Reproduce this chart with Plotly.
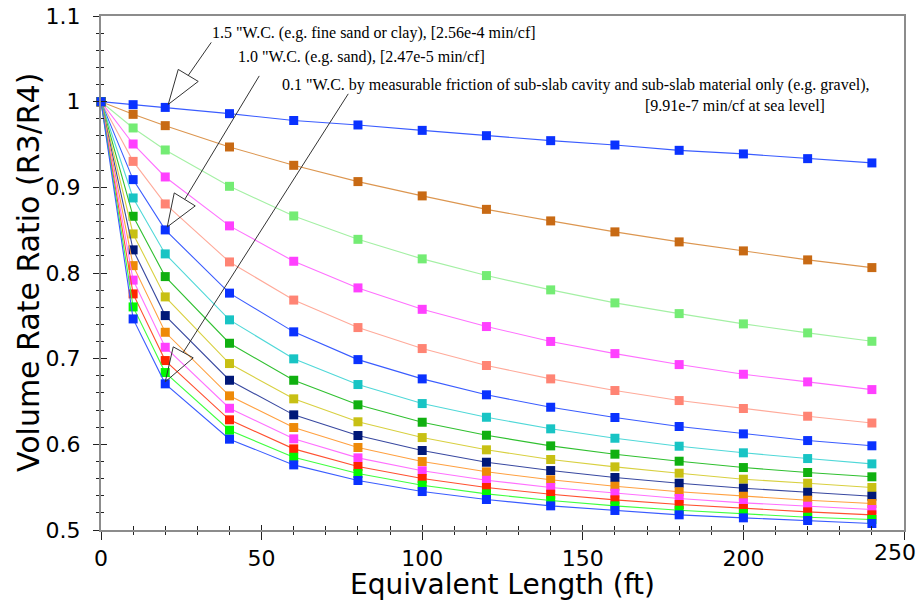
import plotly.graph_objects as go

# Equivalent length (ft)
x_ft = [0, 10, 20, 40, 60, 80, 100, 120, 140, 160, 180, 200, 220, 240]

s01 = [1.0, 0.9965, 0.9933, 0.986, 0.978, 0.9728, 0.9665, 0.9603, 0.9545, 0.9494, 0.9432, 0.939, 0.9335, 0.9285]
s02 = [1.0, 0.9852, 0.972, 0.9471, 0.9257, 0.9067, 0.89, 0.8743, 0.8608, 0.848, 0.8363, 0.8258, 0.8153, 0.8063]
s03 = [1.0, 0.9693, 0.9436, 0.9012, 0.8666, 0.8393, 0.8165, 0.797, 0.7803, 0.7651, 0.7526, 0.7406, 0.7301, 0.7203]
s04 = [1.0, 0.9506, 0.9121, 0.855, 0.8137, 0.7826, 0.7576, 0.7375, 0.7201, 0.7059, 0.6931, 0.6818, 0.6729, 0.6639]
s05 = [1.0, 0.9303, 0.8806, 0.8129, 0.7684, 0.7363, 0.7118, 0.692, 0.6764, 0.6628, 0.6511, 0.6418, 0.6328, 0.6249]
s06 = [1.0, 0.909, 0.8503, 0.7765, 0.7313, 0.6989, 0.6764, 0.6578, 0.6433, 0.6313, 0.6208, 0.6122, 0.6044, 0.5983]
s07 = [1.0, 0.8876, 0.8223, 0.7453, 0.6998, 0.6698, 0.6476, 0.6316, 0.6181, 0.6071, 0.5978, 0.5901, 0.5834, 0.5772]
s08 = [1.0, 0.8662, 0.7958, 0.718, 0.6748, 0.6461, 0.6258, 0.6106, 0.5982, 0.5885, 0.5803, 0.5729, 0.5671, 0.5621]
s09 = [1.0, 0.8456, 0.7721, 0.6943, 0.6531, 0.6263, 0.6079, 0.5936, 0.5823, 0.5737, 0.5663, 0.5593, 0.5546, 0.5496]
s10 = [1.0, 0.827, 0.7503, 0.6748, 0.6344, 0.6103, 0.5928, 0.5791, 0.5694, 0.5613, 0.5546, 0.5488, 0.5441, 0.5394]
s11 = [1.0, 0.8086, 0.7308, 0.6566, 0.6196, 0.5963, 0.5799, 0.5679, 0.5586, 0.5511, 0.5446, 0.5394, 0.5348, 0.5309]
s12 = [1.0, 0.7917, 0.7133, 0.6421, 0.6064, 0.5842, 0.5691, 0.5581, 0.5496, 0.5429, 0.5368, 0.5317, 0.5278, 0.5239]
s13 = [1.0, 0.7756, 0.6978, 0.6286, 0.5947, 0.5741, 0.5601, 0.5496, 0.5418, 0.5352, 0.5298, 0.5251, 0.5212, 0.5177]
s14 = [1.0, 0.7604, 0.6838, 0.6165, 0.5849, 0.5659, 0.5523, 0.5422, 0.5344, 0.5282, 0.5231, 0.5193, 0.5149, 0.5123]
s15 = [1.0, 0.7464, 0.6706, 0.606, 0.576, 0.5578, 0.5449, 0.5356, 0.5282, 0.5228, 0.5177, 0.5142, 0.5111, 0.5076]

series = [s01, s02, s03, s04, s05, s06, s07, s08, s09, s10, s11, s12, s13, s14, s15]

marker_colors = ["#0a32ff", "#c86a14", "#74ec74", "#ff40ff", "#ff8474", "#0a32ff", "#18c4c4",
                 "#10b010", "#c8c014", "#001878", "#ee8a08", "#ff40ff", "#ff2400", "#00f800", "#0a32ff"]
line_colors = ["#3a5cff", "#dc9650", "#a4f0a4", "#ff70ff", "#ffaa9a", "#3a5cff", "#50d8d8",
               "#30c030", "#d8d040", "#3848a0", "#ffa040", "#ff70ff", "#ff5030", "#40ff40", "#3a5cff"]

y_ticks = [0.5, 0.6, 0.7, 0.8, 0.9, 1.0, 1.1]
y_ticklabels = ["0.5", "0.6", "0.7", "0.8", "0.9", "1", "1.1"]
x_ticks = [0, 50, 100, 150, 200, 250]
x_ticklabels = ["0", "50", "100", "150", "200", "250"]

x_title = "Equivalent Length (ft)"
y_title = "Volume Rate Ratio (R3/R4)"

ann_texts = [
    '1.5 "W.C. (e.g. fine sand or clay), [2.56e-4 min/cf]',
    '1.0 "W.C. (e.g. sand), [2.47e-5 min/cf]',
    '0.1 "W.C. by measurable friction of sub-slab cavity and sub-slab material only (e.g. gravel),',
    '[9.91e-7 min/cf at sea level]',
]

fig = go.Figure()
for s, mc, lc in zip(series, marker_colors, line_colors):
    fig.add_trace(go.Scatter(
        x=x_ft, y=s, mode="lines+markers",
        line=dict(color=lc, width=1.1),
        marker=dict(symbol="square", size=9, color=mc, line=dict(width=0)),
        cliponaxis=False, showlegend=False, hoverinfo="x+y",
    ))

# helper overlay axes (for inside half of the crossing ticks)
fig.add_trace(go.Scatter(x=[None], y=[None], xaxis="x2", yaxis="y2",
                         showlegend=False, hoverinfo="skip"))

tickfont = dict(family="DejaVu Sans", size=22, color="black")
fig.update_layout(
    width=916, height=603,
    margin=dict(l=101, r=12, t=16, b=73, autoexpand=False),
    plot_bgcolor="white", paper_bgcolor="white",
    xaxis=dict(range=[0, 250], tickvals=x_ticks, ticktext=x_ticklabels[:-1] + [""],
               showgrid=False, zeroline=False, automargin=False,
               showline=True, linecolor="#8c8c8c", linewidth=2, mirror=True,
               ticks="outside", ticklen=8, tickwidth=1, tickcolor="#222",
               minor=dict(dtick=10, ticks="outside", ticklen=3, tickcolor="#222", showgrid=False),
               tickfont=tickfont, ticklabelstandoff=0),
    yaxis=dict(range=[0.5, 1.1], tickvals=y_ticks, ticktext=y_ticklabels,
               showgrid=False, zeroline=False, automargin=False,
               showline=True, linecolor="#8c8c8c", linewidth=2, mirror=True,
               ticks="outside", ticklen=6, tickwidth=1, tickcolor="#222",
               minor=dict(dtick=0.02, ticks="outside", ticklen=3, tickcolor="#222", showgrid=False),
               tickfont=tickfont, ticklabelstandoff=8, ticklabeloverflow="allow"),
    xaxis2=dict(matches="x", overlaying="x", anchor="y2", side="bottom", showgrid=False,
                zeroline=False, showline=False, showticklabels=False, tickvals=x_ticks,
                automargin=False, ticks="inside", ticklen=5, tickcolor="#222",
                minor=dict(dtick=10, ticks="inside", ticklen=4, tickcolor="#222", showgrid=False)),
    yaxis2=dict(matches="y", overlaying="y", anchor="x2", side="left", showgrid=False,
                zeroline=False, showline=False, showticklabels=False, tickvals=y_ticks,
                automargin=False, ticks="inside", ticklen=6, tickcolor="#222",
                minor=dict(dtick=0.02, ticks="inside", ticklen=3, tickcolor="#222", showgrid=False)),
)

# last x tick label, kept inside the page
fig.add_annotation(x=x_ticks[-1], y=0, xref="x", yref="paper", text=x_ticklabels[-1],
                   showarrow=False, xanchor="center", yanchor="top", xshift=-9, yshift=-8,
                   font=tickfont)

# axis titles
fig.add_annotation(x=0.5, y=0, xref="paper", yref="paper", text=x_title, showarrow=False,
                   xanchor="center", yanchor="top", yshift=-36.5, borderpad=0,
                   font=dict(family="DejaVu Sans", size=28, color="black"))
fig.add_annotation(x=0, y=0.5, xref="paper", yref="paper", text=y_title, showarrow=False,
                   textangle=-90, xanchor="center", yanchor="middle", xshift=-73,
                   font=dict(family="DejaVu Sans", size=30, color="black"))

afont = dict(family="Liberation Serif", size=16, color="black")
ann_pos = [(33.9, 1.0802), (42.0, 1.0527), (55.7, 1.0189), (168.7, 0.9955)]
for t, (ax_, ay_) in zip(ann_texts, ann_pos):
    fig.add_annotation(x=ax_, y=ay_, xref="x", yref="y", text=t, showarrow=False,
                       xanchor="left", yanchor="middle", font=afont)

# hollow arrowheads + leader lines, anchored at the pointed data markers (pixel offsets, y up)
arrow_targets = [(x_ft[2], s01[2]), (x_ft[2], s06[2]), (x_ft[2], s15[2])]
arrow_geo = [
    ((3, 3), (13, 38), (33, 26), (23, 32), (46, 65)),
    ((2, 3), (9, 37), (30, 24), (19.5, 30.5), (94, 154)),
    ((0, 2), (8, 37), (28, 26), (18, 31.5), (183, 290)),
]
for (tx, ty), (tip, v1, v2, bm, end) in zip(arrow_targets, arrow_geo):
    path = (f"M{tip[0]},{tip[1]} L{v1[0]},{v1[1]} L{v2[0]},{v2[1]} Z "
            f"M{bm[0]},{bm[1]} L{end[0]},{end[1]}")
    fig.add_shape(type="path", path=path, xref="x", yref="y",
                  xsizemode="pixel", ysizemode="pixel", xanchor=tx, yanchor=ty,
                  line=dict(color="#333333", width=1), fillcolor="rgba(0,0,0,0)", layer="above")

fig.write_html("out.html", config={"displayModeBar": False},
               post_script="document.body.style.margin='0px';document.body.style.overflow='hidden';")
